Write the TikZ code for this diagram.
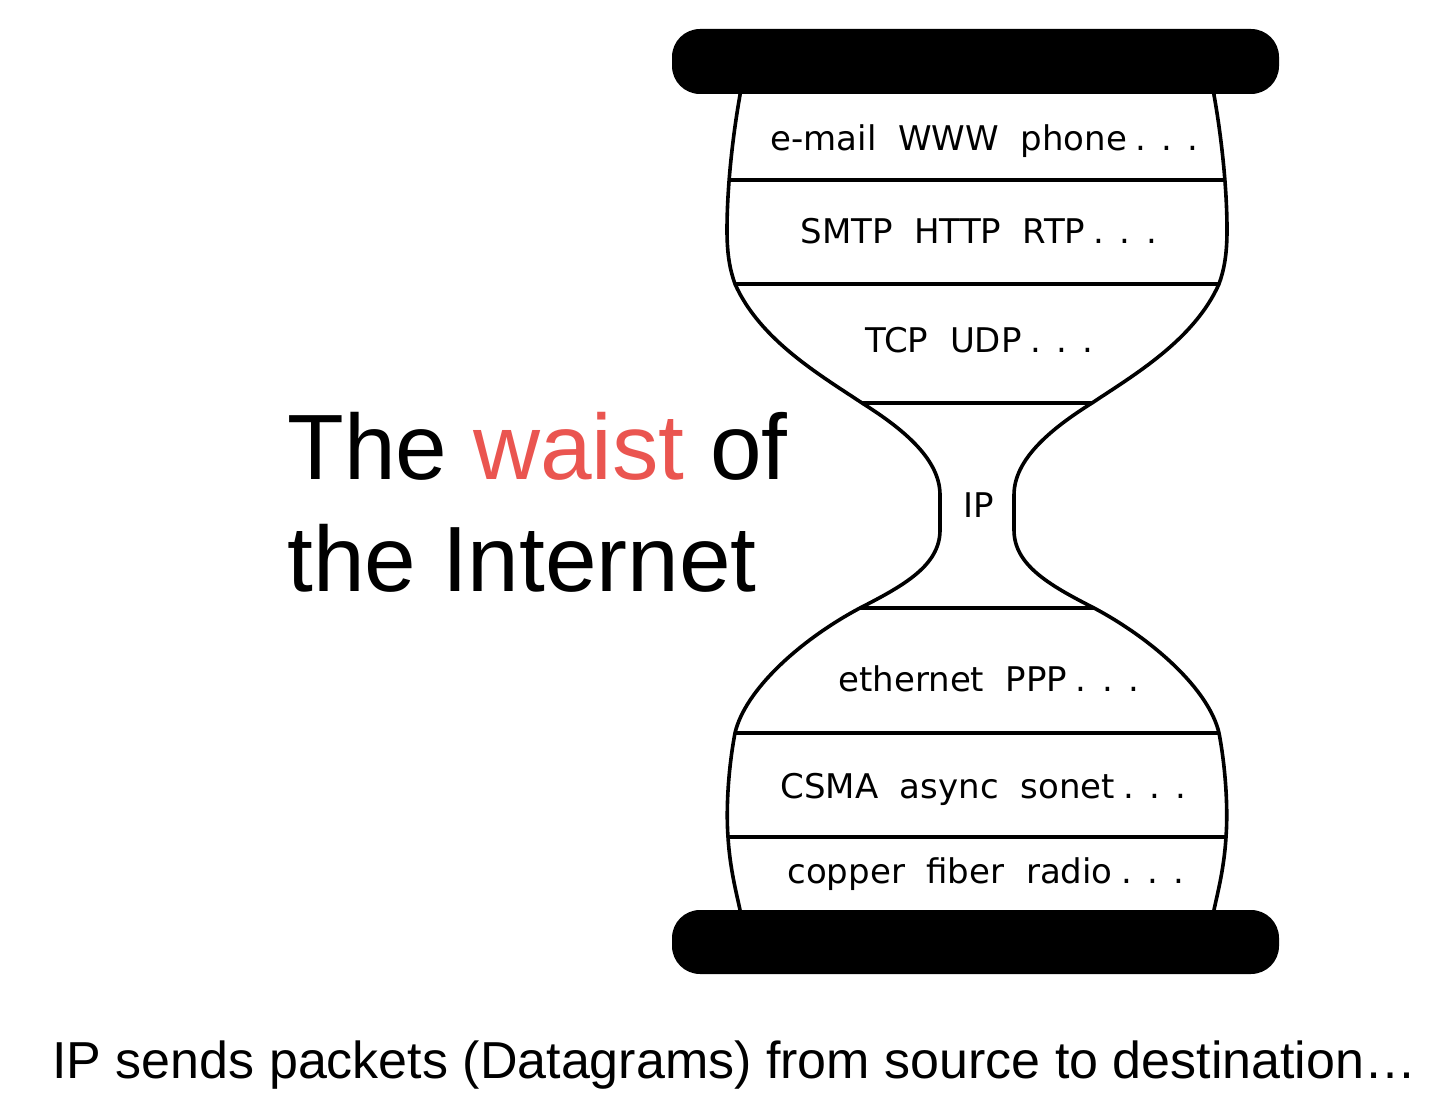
\documentclass[tikz,border=0pt]{standalone}
\usepackage{fontspec}
\setmainfont{Liberation Sans}
\newfontfamily\layerfont{DejaVu Sans}
\definecolor{waistred}{RGB}{234,85,80}
\newcommand\moredots{\hspace{0.25em}.\hspace{0.45em}.\hspace{0.45em}.}
\tikzset{
  layer/.style={anchor=base west,inner sep=0pt,font=\layerfont\fontsize{17pt}{20pt}\selectfont},
  title/.style={anchor=base west,inner sep=0pt,font=\fontsize{46.4pt}{56pt}\selectfont},
  glass/.style={line width=1.8pt,line join=round},
  layerline/.style={line width=1.6pt},
  bar/.style={fill=black,rounded corners=14pt}
}
\begin{document}
\begin{tikzpicture}[x=0.5pt,y=-0.5pt]
 \useasboundingbox (0,0) rectangle (1440,1106);
 \begin{scope}[glass]
  \draw[clip] (741,80) -- (740,95)
     .. controls (732,140) and (727,190) .. (727,230)
     .. controls (727,255) and (730,270) .. (735,284)
     .. controls (760,340) and (820,375) .. (862,403)
     .. controls (905,430) and (940,460) .. (940,495)
     -- (940,530)
     .. controls (940,565) and (905,585) .. (860,608)
     .. controls (800,640) and (745,690) .. (735,733)
     .. controls (728,770) and (726,810) .. (728,837)
     .. controls (730,870) and (737,895) .. (740,910)
     -- (741,925) -- (1213,925) -- (1214,910)
     .. controls (1217,895) and (1224,870) .. (1226,837)
     .. controls (1228,810) and (1226,770) .. (1219,733)
     .. controls (1209,690) and (1154,640) .. (1094,608)
     .. controls (1049,585) and (1014,565) .. (1014,530)
     -- (1014,495)
     .. controls (1014,460) and (1049,430) .. (1092,403)
     .. controls (1134,375) and (1194,340) .. (1219,284)
     .. controls (1224,270) and (1227,255) .. (1227,230)
     .. controls (1227,190) and (1222,140) .. (1214,95)
     -- (1213,80) -- cycle;
  \foreach \y in {180,284,403,608,733,837}
    \draw[layerline] (700,\y) -- (1260,\y);
 \end{scope}
 \fill[bar] (672,29) rectangle (1279,94);
 \fill[bar] (672,910) rectangle (1279,974);
 \node[layer] (app) at (770,151) {e-mail~~WWW~~phone\moredots};
 \node[layer] (appproto) at (800,244) {SMTP~~HTTP~~RTP\moredots};
 \node[layer] (transport) at (865,353) {TCP~~UDP\moredots};
 \node[layer] (net) at (963,518) {IP};
 \node[layer] (link) at (838,691) {ethernet~~PPP\moredots};
 \node[layer] (mac) at (780,798) {CSMA~~async~~sonet\moredots};
 \node[layer] (phys) at (787,883) {copper~~fiber~~radio\moredots};
 \node[title] (title1) at (287,480) {The \textcolor{waistred}{waist} of};
 \node[title] (title2) at (287,592) {the Internet};
 \node[anchor=base west,inner sep=0pt,font=\fontsize{26pt}{30pt}\selectfont] (caption) at (52,1078)
   {IP sends packets (Datagrams) from source to destination…};
\end{tikzpicture}
\end{document}
